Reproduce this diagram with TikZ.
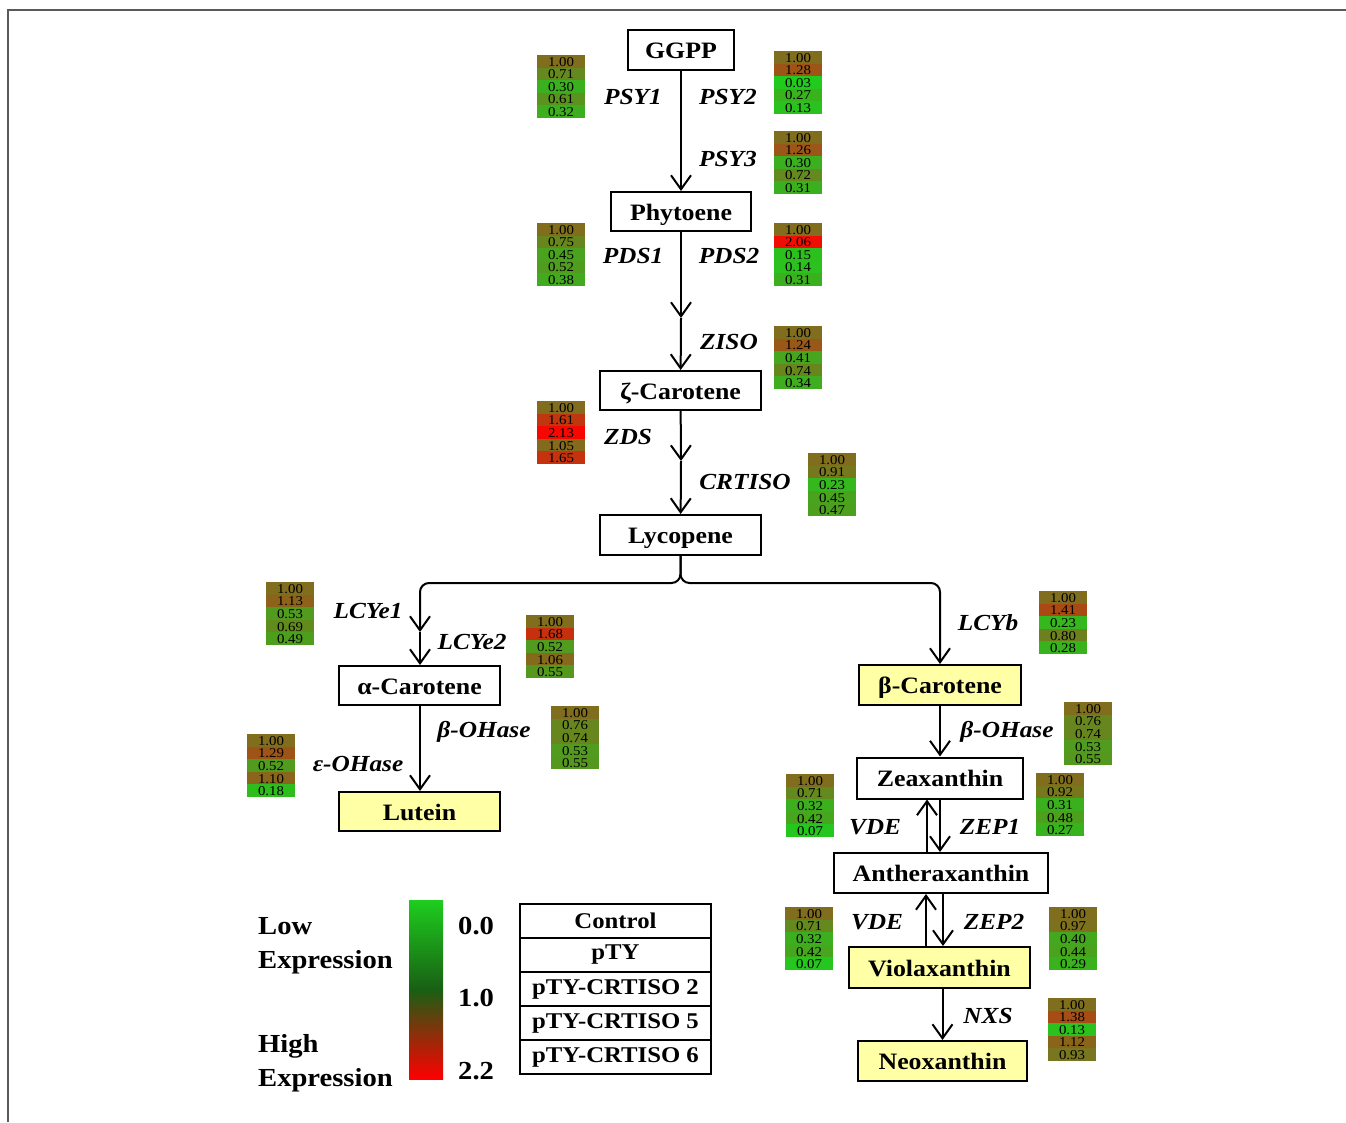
\documentclass[tikz,border=0pt]{standalone}
\usepackage{fontspec}
\setmainfont{Liberation Serif}[FakeStretch=1.1]
\usetikzlibrary{arrows.meta}
\definecolor{hmlow}{RGB}{30,205,30}
\definecolor{hmmid}{RGB}{128,110,30}
\definecolor{hmhigh}{RGB}{255,0,0}
\definecolor{bardark}{RGB}{25,95,20}
\definecolor{boxyellow}{RGB}{255,255,165}
\newcommand{\metfont}{\bfseries\fontsize{23.5}{24}\selectfont}
\newcommand{\enzfont}{\bfseries\itshape\fontsize{23}{24}\selectfont}
\newcommand{\legfont}{\bfseries\fontsize{26}{27}\selectfont}
% heat map of 5 lines: name, left, top, values
\newcommand{\heatbox}[4]{%
  \foreach \v [count=\k from 0] in {#4} {
    \pgfmathtruncatemacro{\lo}{min(100,100*\v)}
    \pgfmathtruncatemacro{\hi}{max(0,min(100,100*(\v-1)/1.2))}
    \fill[hmhigh!\hi!hmmid!\lo!hmlow] ({#2},{#3+\k*12.6}) rectangle ++(48,12.6);
    \node[cell] (#1-\k) at ({#2+24},{#3+\k*12.6+6.8}) {\v};
  }%
}
\begin{document}
\begin{tikzpicture}[x=1pt,y=-1pt,
  met/.style={draw,line width=2pt,inner sep=0pt,text height=20pt,text depth=3pt,font=\metfont},
  hl/.style={met,fill=boxyellow},
  enz/.style={font=\enzfont,inner sep=0pt},
  arr/.style={line width=2pt,-{Straight Barb[length=14pt,width=20pt]}},
  cell/.style={font=\fontsize{13.5}{13.5}\selectfont,inner sep=0pt},
  leg/.style={font=\legfont,inner sep=0pt,anchor=base west},
  tab/.style={draw,line width=1.6pt,outer sep=0pt,minimum width=191pt,minimum height=34pt,inner sep=0pt,font=\bfseries\fontsize{22.5}{23}\selectfont}]
\useasboundingbox (0,0) rectangle (1346,1122);
\draw[gray!70!black,line width=1.5pt] (8,1122) -- (8,10) -- (1346,10);
% Metabolites
\node[met,minimum width=106pt,minimum height=40pt] (ggpp) at (681,50) {GGPP};
\node[met,minimum width=140pt,minimum height=39pt] (phyt) at (681,211.5) {Phytoene};
\node[met,minimum width=161pt,minimum height=39pt] (zcar) at (680.5,390.5) {ζ-Carotene};
\node[met,minimum width=161pt,minimum height=40pt] (lyc) at (680.5,535) {Lycopene};
\node[met,minimum width=161pt,minimum height=39pt] (acar) at (419.5,685.5) {α-Carotene};
\node[hl,minimum width=161pt,minimum height=39pt] (lut) at (419.5,811.5) {Lutein};
\node[hl,minimum width=162pt,minimum height=40pt] (bcar) at (940,685) {β-Carotene};
\node[met,minimum width=166pt,minimum height=41pt] (zea) at (940,778) {Zeaxanthin};
\node[met,minimum width=214pt,minimum height=40pt] (anth) at (941,873) {Antheraxanthin};
\node[hl,minimum width=181pt,minimum height=41pt] (viol) at (939.5,967.5) {Violaxanthin};
\node[hl,minimum width=169pt,minimum height=40pt] (neo) at (942.5,1061) {Neoxanthin};
% Arrows
\coordinate (m1) at (681,318);
\coordinate (m2) at (681,461);
\coordinate (m3) at (420,632);
\draw[arr] (ggpp) -- (phyt);
\draw[arr] (phyt) -- (m1);
\draw[arr] (m1) -- (zcar);
\draw[arr] (zcar) -- (m2);
\draw[arr] (m2) -- (lyc);
\draw[arr,rounded corners=9pt] (lyc.south) -- (680.5,583) -- (420,583) -- (m3);
\draw[arr] (m3) -- (acar.north -| m3);
\draw[arr,rounded corners=9pt] (lyc.south) -- (680.5,583) -- (940,583) -- (bcar.north);
\draw[arr] (acar.south -| m3) -- (lut.north -| m3);
\draw[arr] (bcar) -- (zea);
\draw[arr] ([xshift=-14pt]anth.north) -- ([xshift=-14pt]anth.north |- zea.south);
\draw[arr] (zea.south) -- (zea.south |- anth.north);
\draw[arr] ([xshift=-15pt]viol.north -| anth.north) -- ([xshift=-15pt]anth.south);
\draw[arr] ([xshift=2pt]anth.south) -- ([xshift=2pt]anth.south |- viol.north);
\draw[arr] ([xshift=3pt]viol.south) -- ([xshift=3pt]viol.south |- neo.north);
% Enzymes
\node[enz] (psy1) at (633,97) {PSY1};
\node[enz] (psy2) at (728,97) {PSY2};
\node[enz] (psy3) at (728,159) {PSY3};
\node[enz] (pds1) at (633,256) {PDS1};
\node[enz] (pds2) at (729,256) {PDS2};
\node[enz] (ziso) at (729,342) {ZISO};
\node[enz] (zds) at (628,437) {ZDS};
\node[enz] (crtiso) at (745,482) {CRTISO};
\node[enz] (lcyea) at (368,611) {LCYe1};
\node[enz] (lcyeb) at (472,642) {LCYe2};
\node[enz] (ohba) at (484,732) {β-OHase};
\node[enz] (ohe) at (358,764) {ε-OHase};
\node[enz] (lcyb) at (988,623) {LCYb};
\node[enz] (ohbb) at (1007,732) {β-OHase};
\node[enz] (vdea) at (875,827) {VDE};
\node[enz] (zepa) at (990,827) {ZEP1};
\node[enz] (vdeb) at (877,922) {VDE};
\node[enz] (zepb) at (994,922) {ZEP2};
\node[enz] (nxs) at (988,1016) {NXS};
% Expression levels
\heatbox{hPSYa}{537}{55}{1.00,0.71,0.30,0.61,0.32}
\heatbox{hPSYb}{774}{51}{1.00,1.28,0.03,0.27,0.13}
\heatbox{hPSYc}{774}{131}{1.00,1.26,0.30,0.72,0.31}
\heatbox{hPDSa}{537}{223}{1.00,0.75,0.45,0.52,0.38}
\heatbox{hPDSb}{774}{223}{1.00,2.06,0.15,0.14,0.31}
\heatbox{hZISO}{774}{326}{1.00,1.24,0.41,0.74,0.34}
\heatbox{hZDS}{537}{401}{1.00,1.61,2.13,1.05,1.65}
\heatbox{hCRTISO}{808}{453}{1.00,0.91,0.23,0.45,0.47}
\heatbox{hLCYea}{266}{582}{1.00,1.13,0.53,0.69,0.49}
\heatbox{hLCYeb}{526}{615}{1.00,1.68,0.52,1.06,0.55}
\heatbox{hOHba}{551}{706}{1.00,0.76,0.74,0.53,0.55}
\heatbox{hOHe}{247}{734}{1.00,1.29,0.52,1.10,0.18}
\heatbox{hLCYb}{1039}{591}{1.00,1.41,0.23,0.80,0.28}
\heatbox{hOHbb}{1064}{702}{1.00,0.76,0.74,0.53,0.55}
\heatbox{hVDEa}{786}{774}{1.00,0.71,0.32,0.42,0.07}
\heatbox{hZEPa}{1036}{773}{1.00,0.92,0.31,0.48,0.27}
\heatbox{hVDEb}{785}{907}{1.00,0.71,0.32,0.42,0.07}
\heatbox{hZEPb}{1049}{907}{1.00,0.97,0.40,0.44,0.29}
\heatbox{hNXS}{1048}{998}{1.00,1.38,0.13,1.12,0.93}
% Legend
\node[leg] (low) at (258,934) {Low};
\node[leg] (expa) at (258,968) {Expression};
\node[leg] (high) at (258,1052) {High};
\node[leg] (expb) at (258,1086) {Expression};
\shade[top color=hmlow,bottom color=hmhigh,middle color=bardark] (409,900) rectangle (443,1079);
\node[leg,anchor=west] (va) at (458,926) {0.0};
\node[leg,anchor=west] (vb) at (458,998) {1.0};
\node[leg,anchor=west] (vc) at (458,1071) {2.2};
\node[tab] (tcon) at (615.5,921) {Control};
\node[tab,anchor=north] (tpty) at (tcon.south) {pTY};
\node[tab,anchor=north] (tc2) at (tpty.south) {pTY-CRTISO 2};
\node[tab,anchor=north] (tc5) at (tc2.south) {pTY-CRTISO 5};
\node[tab,anchor=north] (tc6) at (tc5.south) {pTY-CRTISO 6};
\end{tikzpicture}
\end{document}
